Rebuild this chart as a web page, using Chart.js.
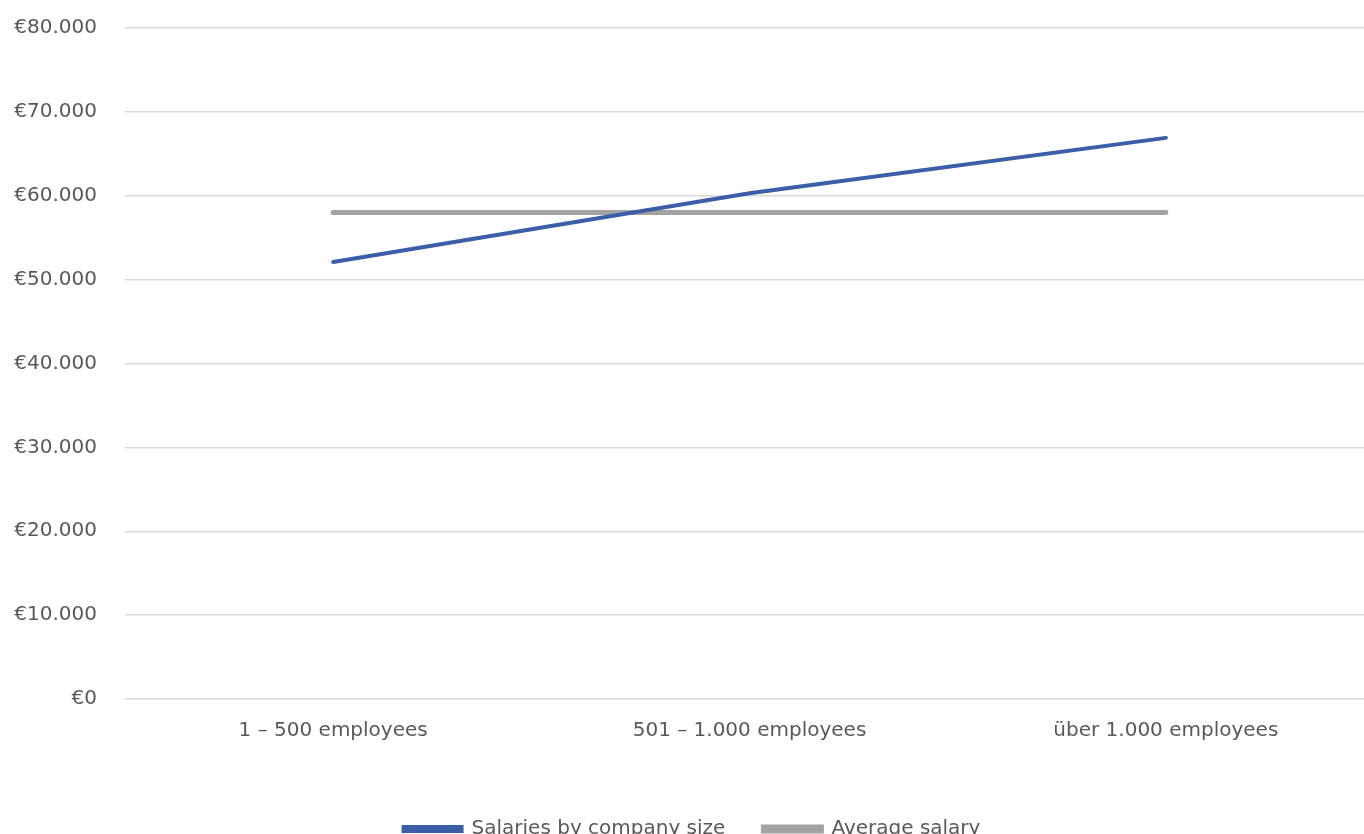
<!DOCTYPE html>
<html>
<head>
<meta charset="utf-8">
<title>Salaries by company size</title>
<script src="https://cdn.jsdelivr.net/npm/chart.js@4/dist/chart.umd.min.js"></script>
<style>
  html, body { margin: 0; padding: 0; background: #ffffff; overflow: hidden; }
  #wrap { position: absolute; left: 0; top: 0; width: 1374px; height: 863px; }
</style>
</head>
<body>
<div id="wrap"><canvas id="chart"></canvas></div>
<script>
// Company-size groups on the x axis
const categories = ['1 – 500 employees', '501 – 1.000 employees', 'über 1.000 employees'];

// Average salary per company size (EUR)
const salariesByCompanySize = [52100, 60300, 66900];

// Overall average salary (EUR), repeated for each group
const averageSalary = [58000, 58000, 58000];

// Y axis ticks and their labels
const yTickValues = [0, 10000, 20000, 30000, 40000, 50000, 60000, 70000, 80000];
const yTickLabels = ['€0', '€10.000', '€20.000', '€30.000', '€40.000', '€50.000', '€60.000', '€70.000', '€80.000'];

const seriesNames = ['Salaries by company size', 'Average salary'];

const FONT = 'DejaVu Sans';
const TEXT = '#595959';
const BLUE = '#3b5ea8';
const GREY = '#a3a3a3';

new Chart(document.getElementById('chart'), {
  type: 'line',
  data: {
    labels: categories,
    datasets: [
      {
        label: seriesNames[0],
        data: salariesByCompanySize,
        borderColor: BLUE,
        backgroundColor: BLUE,
        borderWidth: 4,
        borderCapStyle: 'round',
        pointRadius: 0,
        tension: 0
      },
      {
        label: seriesNames[1],
        data: averageSalary,
        borderColor: GREY,
        backgroundColor: GREY,
        borderWidth: 5,
        borderCapStyle: 'round',
        pointRadius: 0,
        tension: 0
      }
    ]
  },
  options: {
    responsive: true,
    maintainAspectRatio: false,
    animation: false,
    layout: { padding: { top: 28, right: 0, bottom: 14, left: 10 } },
    plugins: {
      tooltip: { enabled: false },
      legend: {
        position: 'bottom',
        labels: {
          font: { family: FONT, size: 20 },
          color: TEXT,
          boxWidth: 58,
          boxHeight: 4,
          padding: 38
        }
      }
    },
    scales: {
      x: {
        offset: true,
        afterFit: (scale) => { scale.height += 18; },
        grid: { display: false, drawTicks: false },
        border: { display: false },
        ticks: {
          font: { family: FONT, size: 20 },
          color: TEXT,
          padding: 20,
          maxRotation: 0
        }
      },
      y: {
        min: 0,
        max: 80000,
        afterFit: (scale) => {
          scale.width = 115;
          scale.paddingTop = 0;
          scale.paddingBottom = 0;
        },
        afterBuildTicks: (scale) => {
          scale.ticks = yTickValues.map(v => ({ value: v }));
        },
        grid: { color: '#d9d9d9', lineWidth: 1.5, drawTicks: false },
        border: { display: false },
        ticks: {
          font: { family: FONT, size: 20 },
          color: TEXT,
          padding: 28,
          callback: (value, index) => yTickLabels[index]
        }
      }
    }
  }
});
</script>
</body>
</html>
